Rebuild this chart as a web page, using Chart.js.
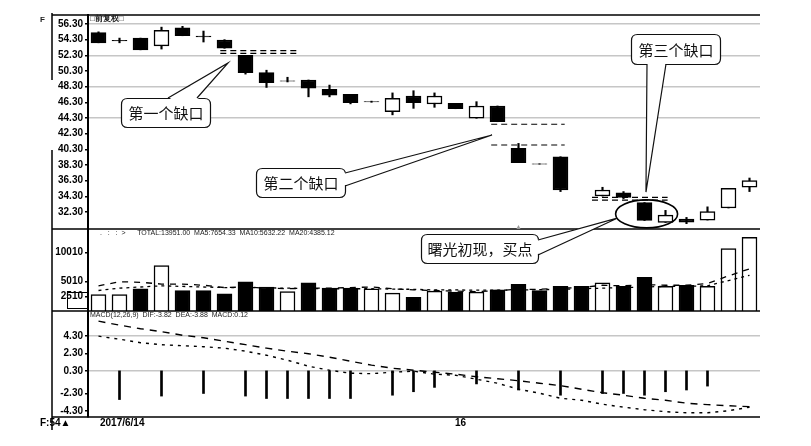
<!DOCTYPE html>
<html><head><meta charset="utf-8">
<script src="https://cdn.jsdelivr.net/npm/chart.js@4.4.1/dist/chart.umd.min.js"></script>
<style>
html,body{margin:0;padding:0;background:#fff;}
#wrap{position:relative;width:811px;height:446px;overflow:hidden;background:#fff;}
canvas{position:absolute;left:0;top:0;}
</style></head><body>
<div id="wrap">
<canvas id="cPrice" width="811" height="446"></canvas>
<canvas id="cVol" width="811" height="446"></canvas>
<canvas id="cMacd" width="811" height="446"></canvas>
</div>
<script>
// ---------- DATA ----------
const days = ['1','2','3','4','5','6','7','8','9','10','11','12','13','14','15','16','17','18','19','20','21','22','23','24','25','26','27','28','29','30','31','32'];
const opens  = [55.2,54.2,54.5,53.5,55.8,54.75,54.26,52.3,50.1,49.05,49.15,47.96,47.32,46.4,45.1,47.1,46.08,46.17,44.26,45.83,40.43,38.45,39.35,null,34.33,34.75,33.5,30.95,31.4,31.26,32.8,35.45];
const closes = [53.9,54.15,53.0,55.5,54.8,54.65,53.2,50.1,48.8,49.0,48.1,47.2,46.25,46.35,46.8,46.25,47.1,45.48,45.83,43.82,38.6,38.4,35.1,null,35.1,34.15,31.2,31.9,31.0,32.33,35.3,36.3];
const highs  = [55.3,54.5,54.5,55.9,56.0,55.4,54.3,52.3,50.4,49.5,49.15,48.5,47.32,46.45,47.5,47.78,47.5,46.17,46.38,45.83,41.05,38.45,39.35,null,35.45,34.9,33.5,32.5,31.6,32.95,35.3,36.63];
const lows   = [53.9,53.9,53.0,53.1,54.8,54.0,53.2,49.9,48.2,48.9,47.0,47.0,46.1,46.3,44.7,45.53,45.66,45.48,44.26,43.82,38.6,38.4,34.9,null,34.33,34.0,31.2,30.95,30.8,31.26,32.8,34.9];

const volumes   = [2800,2800,3800,7770,3500,3500,2930,4970,4090,3300,4790,3910,3910,3800,3040,2340,3390,3220,3220,3620,4560,3500,4210,4210,4790,4210,5730,4210,4390,4210,10650,12580];
const volHollow = [1,1,0,1,0,0,0,0,0,1,0,0,0,1,1,0,1,0,1,0,0,0,0,0,1,0,0,1,0,1,1,1];
const volMa5    = [4300,5000,4900,4600,4600,4400,4000,4100,3900,3800,3900,3900,4000,4100,3800,3600,3500,3400,3300,3500,3700,3700,3900,4000,4400,4300,4500,4400,4400,4700,6000,7200];
const volMa10   = [3500,3900,4100,4300,4200,4100,4000,4000,3950,3900,3850,3800,3800,3800,3750,3700,3600,3600,3550,3550,3600,3650,3700,3800,3900,4000,4100,4200,4200,4300,5200,6100];

const macdDif  = [6.03,5.57,5.16,4.82,4.41,4.12,3.72,3.32,2.92,2.57,2.28,1.88,1.42,0.96,0.61,0.38,0.15,-0.08,-0.37,-0.6,-0.83,-1.12,-1.4,-1.81,-2.21,-2.5,-2.85,-3.08,-3.42,-3.59,-3.71,-3.82];
const macdDea  = [4.3,3.95,3.55,3.32,3.2,3.09,2.92,2.57,2.11,1.53,0.84,0.38,0.03,-0.02,0.15,0.27,-0.08,-0.2,-0.66,-1.12,-1.81,-2.27,-2.85,-3.08,-3.54,-3.88,-4.17,-4.4,-4.52,-4.52,-4.29,-3.88];
const macdHist = [null,-3.0,null,-2.6,null,-2.3,null,-2.6,-2.88,-2.88,-2.88,-2.88,-2.88,null,-2.5,-2.1,-1.6,null,-1.2,null,-1.9,null,-2.5,null,-2.3,-2.3,-2.5,-2.1,-1.9,-1.45,null,null];
const macdBase = 0.3;

const priceTicks = [56.3,54.3,52.3,50.3,48.3,46.3,44.3,42.3,40.3,38.3,36.3,34.3,32.3];
const priceTickLabels = ['56.30','54.30','52.30','50.30','48.30','46.30','44.30','42.30','40.30','38.30','36.30','34.30','32.30'];
const priceGrid = [56.3,52.3,48.3,44.3];
const volTicks = [10010,5010,2510];
const volTickLabels = ['10010','5010','2510'];
const macdTicks = [4.3,2.3,0.3,-2.3,-4.3];
const macdTickLabels = ['4.30','2.30','0.30','-2.30','-4.30'];
const macdGrid = [4.3,0.3];

// gaps (slot range and price level)
const gapFrom  = [5.8,5.8,18.7,18.7,23.5,23.5];
const gapTo    = [9.5,9.5,22.2,22.2,27.1,27.1];
const gapLevel = [52.9,52.55,43.5,40.85,34.15,33.8];

const calloutTexts = ['第一个缺口','第二个缺口','第三个缺口','曙光初现，买点'];
const calloutTipSlot  = [6.17,18.74,26.07,24.7];
const calloutTipPrice = [51.32,42.12,34.84,31.5];
const ellipseSlot = 26.1, ellipsePrice = 32.05;

// ---------- SETUP ----------
Chart.defaults.devicePixelRatio = 1;
Chart.defaults.animation = false;
Chart.defaults.font.family = "'Liberation Sans', Arial, sans-serif";

const AXIS_W = 88, RIGHT_PAD = 51;
const tickFont = {family:"'Liberation Sans', Arial, sans-serif", size:10, weight:'bold'};

function yScale(min, max, ticks, labels, grid){
  return {
    type:'linear', position:'left', min, max,
    afterFit: s => { s.width = AXIS_W; },
    afterBuildTicks: s => { s.ticks = ticks.map(v => ({value:v})); },
    ticks:{ callback:(v,i)=>labels[i], color:'#000', font:tickFont, padding:2, autoSkip:false },
    grid:{ color: c => (c.tick && grid.includes(c.tick.value)) ? '#c6c6c6' : 'rgba(0,0,0,0)', lineWidth:1.5, drawTicks:true, tickLength:3, tickColor:'#000' },
    border:{ display:true, color:'#000', width:2 }
  };
}
function xScales(){
  return {
    x:{ type:'category', labels:days, offset:true, display:false, grid:{display:false} },
    xl:{ type:'linear', min:-0.5, max:days.length-0.5, offset:false, display:false, grid:{offset:false} }
  };
}
const common = (pad) => ({
  responsive:false, animation:false,
  layout:{ padding:{ left:0, right:RIGHT_PAD, top:pad.top, bottom:pad.bottom } },
  plugins:{ legend:{display:false}, tooltip:{enabled:false} }
});

// ---------- PRICE ----------
const isUp = closes.map((c,i)=>c>=opens[i]);
const gapSets = gapLevel.map((lv,i)=>({
  type:'line', xAxisID:'xl', yAxisID:'y',
  data:[{x:gapFrom[i],y:lv},{x:gapTo[i],y:lv}],
  borderColor:'#000', borderWidth:1.2, borderDash:[6,4], pointRadius:0, fill:false
}));
const priceChart = new Chart(document.getElementById('cPrice'), {
  type:'bar',
  data:{ labels:days, datasets:[
    { type:'bar', xAxisID:'x', yAxisID:'y', data:opens.map((o,i)=>o===null?null:[o,closes[i]]),
      backgroundColor:isUp.map(u=>u?'#fff':'#000'), borderColor:'#000', borderWidth:1.5,
      borderSkipped:false, barThickness:15, grouped:false },
    { type:'bar', xAxisID:'x', yAxisID:'y', data:lows.map((l,i)=>l===null?null:[l,highs[i]]),
      backgroundColor:'#000', borderWidth:0, barThickness:1.5, grouped:false },
    ...gapSets
  ]},
  options:{ ...common({top:15,bottom:446-229}),
    scales:{ ...xScales(), y:yScale(30.12,57.45,priceTicks,priceTickLabels,priceGrid) } }
});

// ---------- VOLUME ----------
const volChart = new Chart(document.getElementById('cVol'), {
  type:'bar',
  data:{ labels:days, datasets:[
    { type:'line', xAxisID:'x', yAxisID:'y', data:volMa5, borderColor:'#000', borderWidth:1.3, borderDash:[6,6], pointRadius:0, fill:false },
    { type:'line', xAxisID:'x', yAxisID:'y', data:volMa10, borderColor:'#000', borderWidth:1.3, borderDash:[3,4], pointRadius:0, fill:false },
    { type:'bar', xAxisID:'x', yAxisID:'y', data:volumes,
      backgroundColor:volHollow.map(h=>h?'#fff':'#000'), borderColor:'#000', borderWidth:1.5,
      borderSkipped:'bottom', barThickness:15, grouped:false }
  ]},
  options:{ ...common({top:229,bottom:446-311}),
    scales:{ ...xScales(), y:yScale(0,14000,volTicks,volTickLabels,[]) } }
});

// ---------- MACD + overlay ----------
function roundRect(ctx,x,y,w,h,r){
  ctx.beginPath();
  ctx.moveTo(x+r,y); ctx.lineTo(x+w-r,y); ctx.quadraticCurveTo(x+w,y,x+w,y+r);
  ctx.lineTo(x+w,y+h-r); ctx.quadraticCurveTo(x+w,y+h,x+w-r,y+h);
  ctx.lineTo(x+r,y+h); ctx.quadraticCurveTo(x,y+h,x,y+h-r);
  ctx.lineTo(x,y+r); ctx.quadraticCurveTo(x,y,x+r,y); ctx.closePath();
}
const calloutBoxes = [
  {x:121,y:98,w:89,h:29, b1:[168,98],b2:[197,98], n:[0,1]},
  {x:256,y:168,w:89,h:29, b1:[345,173],b2:[345,186], n:[-1,0]},
  {x:631,y:34,w:89,h:30, b1:[647,64],b2:[666,64], n:[0,-1]},
  {x:421,y:234,w:117,h:29, b1:[538,240],b2:[538,255], n:[-1,0]}
];
const overlay = {
  id:'overlay',
  afterDraw(chart){
    const ctx = chart.ctx;
    const px = priceChart.scales.x, py = priceChart.scales.y;
    ctx.save();
    // frame
    ctx.strokeStyle='#000'; ctx.lineWidth=1.5;
    [15,229,311,417].forEach(y=>{ ctx.beginPath(); ctx.moveTo(52,y); ctx.lineTo(760,y); ctx.stroke(); });
    ctx.beginPath(); ctx.moveTo(52,13); ctx.lineTo(52,80); ctx.moveTo(52,150); ctx.lineTo(52,430); ctx.stroke();
    // boxed 2510 label
    ctx.lineWidth=1; ctx.strokeRect(67.5,292.5,21,16);
    // ellipse around the key candle
    const ex = px.getPixelForValue(ellipseSlot), ey = py.getPixelForValue(ellipsePrice);
    ctx.lineWidth=1.6; ctx.beginPath(); ctx.ellipse(ex,ey,31,14,0,0,Math.PI*2); ctx.stroke();
    // callouts
    calloutBoxes.forEach((b,i)=>{
      const tx = px.getPixelForValue(calloutTipSlot[i]), ty = py.getPixelForValue(calloutTipPrice[i]);
      ctx.lineWidth=1.2; ctx.strokeStyle='#111'; ctx.fillStyle='#fff';
      roundRect(ctx,b.x+0.5,b.y+0.5,b.w,b.h,6); ctx.fill(); ctx.stroke();
      ctx.beginPath();
      ctx.moveTo(b.b1[0]+b.n[0]*2,b.b1[1]+b.n[1]*2); ctx.lineTo(tx,ty); ctx.lineTo(b.b2[0]+b.n[0]*2,b.b2[1]+b.n[1]*2); ctx.closePath(); ctx.fill();
      ctx.beginPath(); ctx.moveTo(b.b1[0],b.b1[1]); ctx.lineTo(tx,ty); ctx.lineTo(b.b2[0],b.b2[1]); ctx.stroke();
      ctx.fillStyle='#111'; ctx.font="15px 'Noto Sans CJK SC'"; ctx.textAlign='center'; ctx.textBaseline='middle';
      ctx.fillText(calloutTexts[i], b.x+b.w/2+0.5, b.y+b.h/2+1);
    });
    // small texts
    ctx.fillStyle='#222'; ctx.textAlign='left'; ctx.textBaseline='middle';
    ctx.font="bold 8px 'Liberation Sans'";
    ctx.fillText('F', 40, 20);
    ctx.fillText('□前复权□', 90, 19);
    ctx.font="7px 'Liberation Sans'";
    ctx.fillText('.   :   :  >      TOTAL:13951.00  MA5:7654.33  MA10:5632.22  MA20:4385.12', 100, 233);
    ctx.fillText('MACD(12,26,9)  DIF:-3.82  DEA:-3.88  MACD:0.12', 90, 315);
    ctx.fillStyle='#000'; ctx.font="bold 10px 'Liberation Sans'";
    ctx.fillText('F:54▲', 40, 423);
    ctx.fillText('2017/6/14', 100, 423);
    ctx.fillText('16', 455, 423);
    ctx.fillStyle='#999'; ctx.font="7px 'Liberation Sans'"; ctx.fillText('▲', 515, 227);
    ctx.restore();
  }
};
const macdChart = new Chart(document.getElementById('cMacd'), {
  type:'bar',
  data:{ labels:days, datasets:[
    { type:'line', xAxisID:'x', yAxisID:'y', data:macdDif, borderColor:'#000', borderWidth:1.4, borderDash:[7,6], pointRadius:0, fill:false },
    { type:'line', xAxisID:'x', yAxisID:'y', data:macdDea, borderColor:'#000', borderWidth:1.4, borderDash:[3,5], pointRadius:0, fill:false },
    { type:'bar', xAxisID:'x', yAxisID:'y', data:macdHist.map(v=>v===null?null:[macdBase,v]),
      backgroundColor:'#000', borderWidth:0, barThickness:2, grouped:false }
  ]},
  options:{ ...common({top:311,bottom:446-417}),
    scales:{ ...xScales(), y:yScale(-5.01,7.2,macdTicks,macdTickLabels,macdGrid) } },
  plugins:[overlay]
});
</script>
</body></html>
